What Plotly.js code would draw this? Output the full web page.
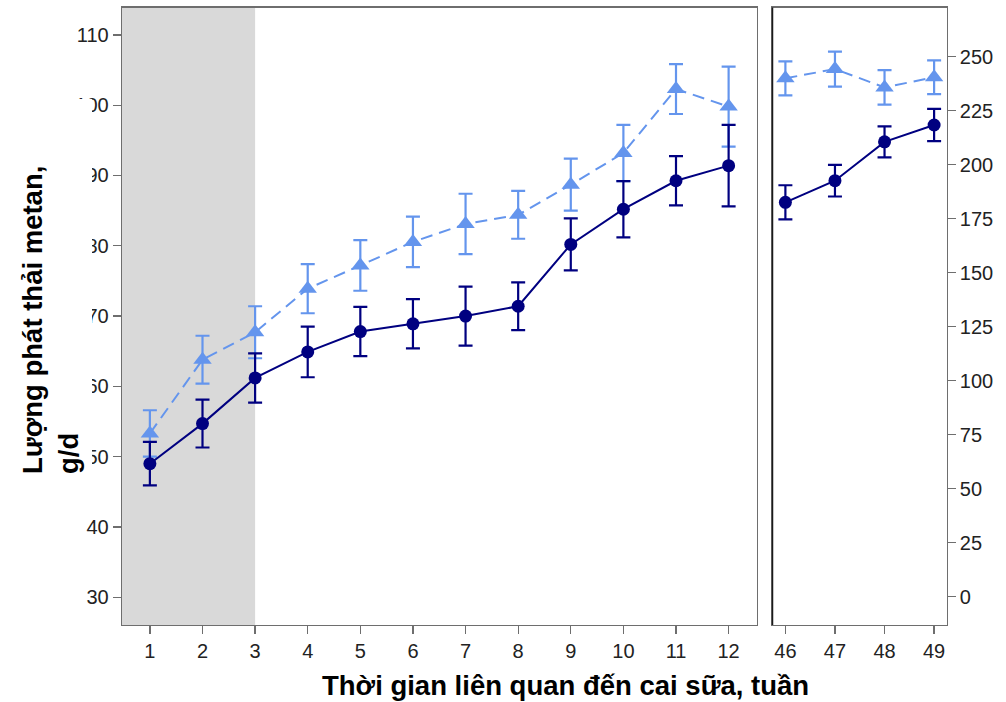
<!DOCTYPE html>
<html>
<head>
<meta charset="utf-8">
<script src="https://cdn.plot.ly/plotly-3.0.1.min.js"></script>
<style>html,body{margin:0;padding:0;background:#fff;}#chart{width:1006px;height:702px;}</style>
</head>
<body>
<div id="chart"></div>
<script>
// Weeks relative to weaning
const weeksEarly = [1,2,3,4,5,6,7,8,9,10,11,12];
const weeksLate = [46,47,48,49];

// Series (dark navy, circles)
const darkEarly = [49.0,54.7,61.2,64.9,67.8,68.9,70.0,71.4,80.2,85.2,89.25,91.4];
const darkEarlyErr = [3.1,3.4,3.5,3.6,3.5,3.5,4.2,3.4,3.7,4.0,3.5,5.8];
const darkLate = [182.6,192.6,210.6,218.4];
const darkLateErr = [7.9,7.3,7.2,7.5];

// Series (light blue, triangles)
const lightEarly = [53.3,63.8,67.7,73.9,77.2,80.55,83.1,84.4,88.7,93.2,102.3,99.8];
const lightEarlyErr = [3.3,3.4,3.7,3.5,3.6,3.6,4.3,3.4,3.7,4.0,3.55,5.7];
const lightLate = [240.0,244.3,235.8,240.5];
const lightLateErr = [7.9,8.1,8.0,7.8];

const leftTicks = [30,40,50,60,70,80,90,100,110];
const rightTicks = [0,25,50,75,100,125,150,175,200,225,250];

const xTitle = 'Thời gian liên quan đến cai sữa, tuần';
const yTitle = 'Lượng phát thải metan,<br>g/d';

const DARK = '#000080';
const LIGHT = '#6495ED';
const AX = '#6e6e6e';

function series(x, y, err, color, symbol, size, dash, xa, ya) {
  return {
    x: x, y: y, xaxis: xa, yaxis: ya, type: 'scatter', mode: 'lines+markers',
    line: {color: color, width: 2, dash: dash},
    marker: {color: color, symbol: symbol, size: size},
    error_y: {type: 'data', array: err, visible: true, color: color, thickness: 2.2, width: 7},
    showlegend: false, hoverinfo: 'skip'
  };
}

const data = [
  series(weeksEarly, lightEarly, lightEarlyErr, LIGHT, 'triangle-up', 16, '12px,7px', 'x', 'y'),
  series(weeksEarly, darkEarly, darkEarlyErr, DARK, 'circle', 13, 'solid', 'x', 'y'),
  series(weeksLate, lightLate, lightLateErr, LIGHT, 'triangle-up', 16, '12px,7px', 'x2', 'y2'),
  series(weeksLate, darkLate, darkLateErr, DARK, 'circle', 13, 'solid', 'x2', 'y2')
];

const W = 1006, H = 702;
const yDom = [1 - 625/H, 1 - 7.5/H];
const tickFont = {family: 'Liberation Sans, Arial, sans-serif', size: 20, color: '#222'};

const axCommon = {
  showgrid: false, zeroline: false, showline: true, linecolor: AX, linewidth: 1.3,
  ticks: 'outside', ticklen: 8, tickwidth: 1.3, tickcolor: AX, tickfont: tickFont, fixedrange: true
};

const layout = {
  width: W, height: H,
  margin: {l: 0, r: 0, t: 0, b: 0},
  paper_bgcolor: '#fff', plot_bgcolor: 'rgba(0,0,0,0)',
  xaxis: Object.assign({}, axCommon, {domain: [122/W, 756.5/W], range: [0.47, 12.53], tickvals: weeksEarly, anchor: 'y', mirror: true}),
  yaxis: Object.assign({}, axCommon, {domain: yDom, range: [26.05, 113.9], tickvals: leftTicks, anchor: 'x', mirror: true}),
  xaxis2: Object.assign({}, axCommon, {domain: [772.5/W, 946.5/W], range: [45.74, 49.25], tickvals: weeksLate, anchor: 'y2', mirror: true}),
  yaxis2: Object.assign({}, axCommon, {domain: yDom, range: [-13.1, 272.8], tickvals: rightTicks, anchor: 'x2', side: 'right', mirror: true}),
  shapes: [
    {type: 'rect', xref: 'x', yref: 'y domain', x0: 0.47, x1: 3, y0: 0, y1: 1, fillcolor: '#d9d9d9', line: {width: 0}, layer: 'below'},
    {type: 'line', xref: 'x2 domain', yref: 'y2 domain', x0: 0, x1: 0, y0: 0, y1: 1, line: {color: '#1a1a1a', width: 1.5}, layer: 'above'}
  ],
  annotations: [
    {text: '\u00a0', xref: 'paper', yref: 'paper', x: 0, y: 1 - 99/H, xanchor: 'left', yanchor: 'top', showarrow: false,
     width: 92, height: 381, bgcolor: '#ffffff', borderpad: 0, borderwidth: 0},
    {text: xTitle, xref: 'paper', yref: 'paper', x: 565/W, y: 1 - 685/H, xanchor: 'center', yanchor: 'middle', showarrow: false,
     font: {family: 'Liberation Sans, Arial, sans-serif', size: 27.5, color: '#000', weight: 'bold'}},
    {text: yTitle, xref: 'paper', yref: 'paper', x: 50/W, y: 1 - 320/H, xanchor: 'center', yanchor: 'middle', showarrow: false, textangle: -90, align: 'left',
     font: {family: 'Liberation Sans, Arial, sans-serif', size: 27.5, color: '#000', weight: 'bold'}}
  ]
};

Plotly.newPlot('chart', data, layout, {staticPlot: true, displayModeBar: false});
</script>
</body>
</html>
